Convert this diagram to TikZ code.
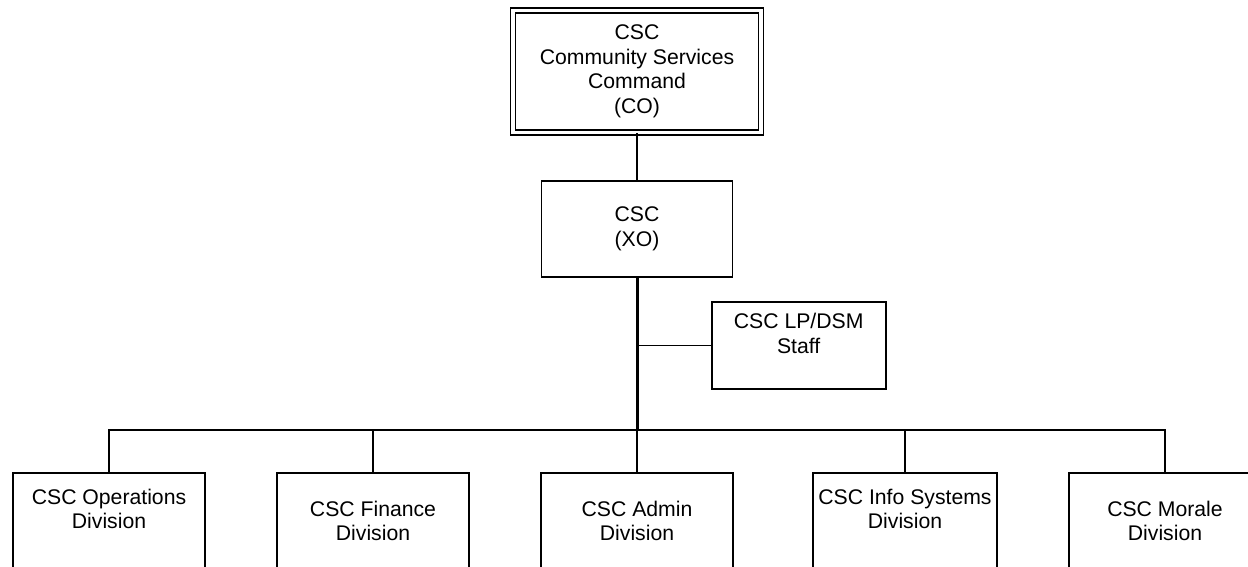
\documentclass[tikz,border=0pt]{standalone}
\usepackage{fontspec}
\setmainfont{Liberation Sans}
\begin{document}
\begin{tikzpicture}[x=1pt,y=-1pt,
	unit/.style={draw,rectangle,line width=1.9pt,inner sep=0pt,align=center,
		font=\fontsize{21.2}{24.5}\selectfont},
	div/.style={unit,anchor=north,minimum width=192pt,minimum height=96pt}]
	\clip (0,0) rectangle (1248,566);
	\useasboundingbox (0,0) rectangle (1248,566);

	\node[unit,double,line width=1.5pt,double distance=3.4pt,minimum width=247.7pt,minimum height=122pt] (co) at (637,71.5) {CSC\\Community Services\\Command\\(CO)};
	\node[unit,minimum width=191pt,minimum height=95.7pt] (xo) at (637,229) {CSC\\(XO)};
	\node[unit,minimum width=174pt,minimum height=87pt] (staff) at (798.7,345.5) {CSC LP/DSM\\Staff\\~};

	\node[div] (ops) at (109,472) {CSC Operations\\Division\\~};
	\node[div] (fin) at (373,472) {CSC Finance\\Division};
	\node[div] (adm) at (637,472) {CSC Admin\\Division};
	\node[div,minimum width=184pt] (inf) at (905,472) {CSC Info Systems\\Division\\~};
	\node[div] (mor) at (1165,472) {CSC Morale\\Division};

	\coordinate (bus) at (637,430);

	\draw[line width=1.9pt] (co) -- (xo);
	\draw[line width=3pt] (xo) -- (bus);
	\draw[line width=1.9pt] (staff.west) -- (staff.west -| xo.south);
	\foreach \n in {ops,fin,adm,inf,mor}
		\draw[line width=1.9pt] (bus) -| (\n.north);
\end{tikzpicture}
\end{document}
